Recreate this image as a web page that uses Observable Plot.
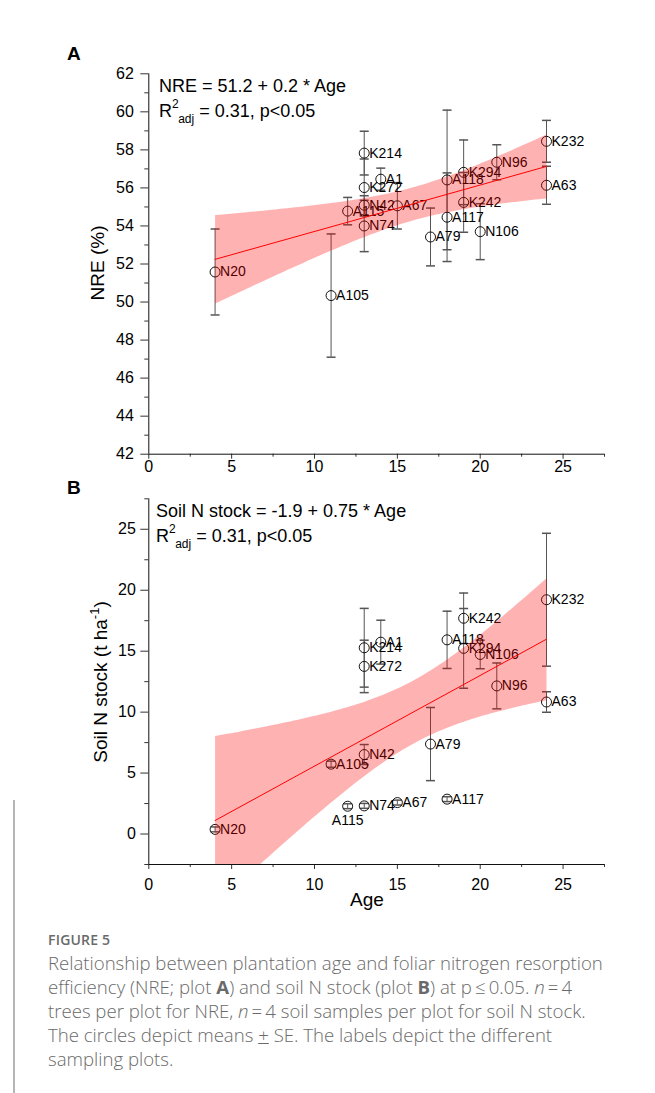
<!DOCTYPE html>
<html><head><meta charset="utf-8">
<script src="https://cdn.jsdelivr.net/npm/d3@7"></script>
<script src="https://cdn.jsdelivr.net/npm/@observablehq/plot@0.6"></script>
<style>
body{margin:0;background:#fff;}
#wrap{position:relative;width:655px;height:1093px;overflow:hidden;background:#fff;font-family:"Liberation Sans",Arial,sans-serif;}
#wrap svg{position:absolute;left:0;overflow:visible;}
#pA{top:0;} #pB{top:480px;}
.cap{position:absolute;left:48px;font-family:"Open Sans",sans-serif;color:#6a6a6a;white-space:nowrap;}
#fig{top:930px;font-size:14px;font-weight:600;letter-spacing:0.2px;}
#txt{top:951px;font-size:18.6px;line-height:24px;font-weight:300;}
#txt b{font-weight:700;}
#vline{position:absolute;left:13px;top:800px;width:1.5px;height:293px;background:#b5b5b5;}
</style></head><body><div id="wrap"><div id="vline"></div>
<div class="cap" id="fig">FIGURE 5</div>
<div class="cap" id="txt">Relationship between plantation age and foliar nitrogen resorption<br>efficiency (NRE; plot <b>A</b>) and soil N stock (plot <b>B</b>) at p&#8201;≤&#8201;0.05. <i>n</i>&#8201;=&#8201;4<br>trees per plot for NRE, <i>n</i>&#8201;=&#8201;4 soil samples per plot for soil N stock.<br>The circles depict means <u>+</u> SE. The labels depict the different<br>sampling plots.</div>
</div>
<script>
// ---- data ----
const sites  = ["N20","A105","A115","K214","K272","N42","N74","A1","A67","A79","A118","A117","K294","K242","N106","N96","K232","A63"];
const age    = [4,11,12,13,13,13,13,14,15,17,18,18,19,19,20,21,24,24];
const nre    = [51.58,50.34,54.78,57.83,56.02,55.09,54.0,56.46,55.06,53.42,56.42,54.46,56.82,55.24,53.70,57.35,58.45,56.14];
const nreSE  = [2.26,3.24,0.72,1.15,1.5,0.5,1.35,0.58,1.22,1.52,3.67,2.33,1.7,1.57,1.47,0.92,1.1,1.0];
const soilN  = [0.38,5.73,2.28,15.28,13.75,6.52,2.31,15.74,2.58,7.38,15.93,2.86,15.23,17.7,14.73,12.15,19.22,10.83];
const soilSE = [0.2,0.25,0.2,3.23,2.15,0.82,0.2,1.8,0.2,3.0,2.35,0.2,3.27,2.07,1.17,1.88,5.45,0.84];
const xMajor = [0,5,10,15,20,25];
const xMinor = [2.5,7.5,12.5,17.5,22.5,27.5];
const yMajorA = [42,44,46,48,50,52,54,56,58,60,62], yMinorA = [43,45,47,49,51,53,55,57,59,61];
const yMajorB = [0,5,10,15,20,25], yMinorB = [-2.5,2.5,7.5,12.5,17.5,22.5,27.5];
const labelBelowB = ["A115"];

const dataA = sites.map((s,i)=>({site:s, age:age[i], v:nre[i], se:nreSE[i]}));
const dataB = sites.map((s,i)=>({site:s, age:age[i], v:soilN[i], se:soilSE[i]}));

const cap = {draw(ctx, size){ const w = Math.sqrt(size/Math.PI); ctx.moveTo(-w,0); ctx.lineTo(w,0); }};
const FONT = "Liberation Sans, Arial, sans-serif";

function panel(data, o){
  const right = data.filter(d=>!o.below.includes(d.site));
  const below = data.filter(d=>o.below.includes(d.site));
  const y0 = o.ydom[0];
  return Plot.plot({
    width:655, height:o.height,
    marginLeft:148.3, marginRight:51, marginTop:o.mt, marginBottom:o.mb,
    style:{fontFamily:FONT, fontSize:"16px", color:"#000", background:"transparent"},
    x:{domain:[0,27.5], label:null},
    y:{domain:o.ydom, label:null},
    marks:[
      Plot.axisY({ticks:o.yMajor, tickSize:8, tickFormat:()=>"", label:null, stroke:"#333"}),
      Plot.axisY({ticks:o.yMinor, tickSize:4, tickFormat:()=>"", label:null, stroke:"#333"}),
      Plot.axisX({ticks:xMajor, tickSize:5, tickFormat:()=>"", label:null, stroke:"#333"}),
      Plot.axisX({ticks:xMinor, tickSize:3, tickFormat:()=>"", label:null, stroke:"#333"}),
      Plot.text(o.yMajor, {x:0, y:d=>d, text:d=>String(d), textAnchor:"end", dx:-o.ylab, fontSize:16, fill:"#000"}),
      Plot.text(xMajor, {x:d=>d, y:y0, text:d=>String(d), textAnchor:"middle", lineAnchor:"top", dy:o.xlab, fontSize:16, fill:"#000"}),
      Plot.ruleX([0], {stroke:"#111"}),
      Plot.ruleY([y0], {stroke:"#111"}),
      Plot.ruleX(data, {x:"age", y1:d=>d.v-d.se, y2:d=>d.v+d.se, stroke:"#555", strokeWidth:1}),
      Plot.dot(data, {x:"age", y:d=>d.v+d.se, symbol:cap, r:4.5, stroke:"#555", fill:"none"}),
      Plot.dot(data, {x:"age", y:d=>d.v-d.se, symbol:cap, r:4.5, stroke:"#555", fill:"none"}),
      Plot.dot(data, {x:"age", y:"v", r:5, stroke:"#111", strokeWidth:1, fill:"none"}),
      Plot.text(right, {x:"age", y:"v", text:"site", textAnchor:"start", dx:5, fontSize:14, fill:"#000"}),
      Plot.text(below, {x:"age", y:"v", text:"site", textAnchor:"middle", dy:14, fontSize:14, fill:"#000"}),
      Plot.linearRegressionY(data, {x:"age", y:"v", ci:0.95, stroke:"#ff0000", strokeWidth:1, fill:"#ff0000", fillOpacity:0.3, clip:true})
    ]
  });
}

const wrap = document.getElementById("wrap");
const A = panel(dataA, {height:480, mt:73.3, mb:26.3, ydom:[42,62], yMajor:yMajorA, yMinor:yMinorA, ylab:15, xlab:6.5, below:[]});
A.id = "pA"; wrap.appendChild(A);
const B = panel(dataB, {height:430, mt:18.3, mb:46, ydom:[-2.5,27.5], yMajor:yMajorB, yMinor:yMinorB, ylab:13, xlab:14.5, below:labelBelowB});
B.id = "pB"; wrap.appendChild(B);

function txt(svg, x, y, size, weight){
  return d3.select(svg).append("text").attr("x",x).attr("y",y).attr("text-anchor","start")
    .attr("font-family",FONT).attr("font-size",size).attr("font-weight",weight||"normal").attr("fill","#000");
}
function r2line(svg, x, y){
  const t = txt(svg, x, y, 18);
  t.append("tspan").text("R");
  t.append("tspan").attr("font-size",12).attr("dy",-9).text("2");
  t.append("tspan").attr("font-size",12).attr("dx",-0.5).attr("dy",15).text("adj");
  t.append("tspan").attr("dy",-6).text(" = 0.31, p<0.05");
}
// Panel A annotations
txt(A, 67, 60, 19, "bold").text("A");
txt(A, 159, 92, 18).text("NRE = 51.2 + 0.2 * Age");
r2line(A, 159, 116.7);
txt(A, 0, 0, 19).attr("x",null).attr("y",null).attr("text-anchor","middle")
  .attr("transform","translate(104,263) rotate(-90)").text("NRE (%)");
// Panel B annotations
txt(B, 67, 14, 19, "bold").text("B");
txt(B, 156, 36.7, 18).text("Soil N stock = -1.9 + 0.75 * Age");
r2line(B, 156, 61.7);
{
  const t = txt(B, 0, 0, 19).attr("x",null).attr("y",null).attr("text-anchor","middle")
    .attr("transform","translate(107,202) rotate(-90)");
  t.append("tspan").text("Soil N stock (t ha");
  t.append("tspan").attr("font-size",13).attr("dy",-8).text("-1");
  t.append("tspan").attr("dy",8).text(")");
}
txt(B, 367, 426, 19).attr("text-anchor","middle").text("Age");
</script>
</body></html>
